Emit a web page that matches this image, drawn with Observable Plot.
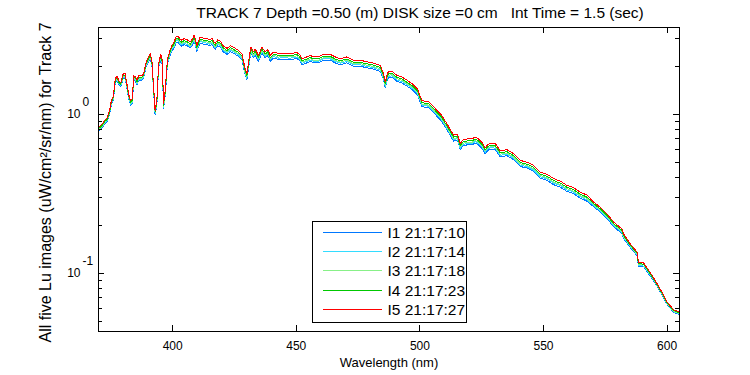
<!DOCTYPE html>
<html><head><meta charset="utf-8">
<script src="https://cdn.jsdelivr.net/npm/d3@7"></script>
<script src="https://cdn.jsdelivr.net/npm/@observablehq/plot@0.6"></script>
<style>body{margin:0;background:#fff} #chart{width:750px;height:375px}</style>
</head><body><div id="chart"></div>
<script>
const wavelength = [
370.5,371.5,372.5,373.5,374.5,375.2,376.0,376.8,377.5,378.3,
379.0,380.0,380.8,381.7,382.4,383.0,383.6,384.3,385.0,385.6,
386.3,387.2,388.2,389.3,390.3,390.9,391.6,392.2,392.9,393.6,
394.3,395.2,395.8,396.3,397.0,397.9,399.0,399.7,400.6,401.4,
402.2,403.0,403.7,404.6,405.8,407.1,408.0,408.7,409.8,411.1,
412.5,413.8,415.0,415.9,417.2,418.2,419.2,420.6,422.0,423.3,
424.6,425.6,426.6,428.0,429.3,430.0,431.1,431.6,432.7,433.4,
434.7,436.1,437.4,438.5,439.5,440.9,442.8,444.9,447.5,450.2,
451.3,452.3,454.3,455.6,457.0,459.0,461.0,463.7,465.7,467.8,
470.5,473.2,475.9,478.6,481.3,484.0,485.3,486.0,486.8,487.3,
488.7,490.7,492.7,494.8,496.8,499.0,500.8,503.5,505.5,507.6,
508.5,510.9,513.6,515.2,516.3,517.4,519.0,521.0,522.4,523.7,
525.0,526.4,527.7,529.0,530.5,532.5,535.2,537.9,540.6,543.3,
546.0,548.7,551.4,554.1,556.8,559.5,561.5,564.9,567.6,570.3,
573.0,575.7,578.4,581.7,582.4,585.1,587.8,588.4,590.5,593.2,
595.2,597.9,600.0,602.6,605.0];

const i1 = [
.792,.820,.868,.896,1.000,1.150,1.226,1.584,1.641,1.528,
1.490,1.683,1.683,1.393,1.216,1.141,1.169,1.636,1.608,1.533,
1.646,1.627,1.674,2.001,2.151,2.253,2.048,1.459,0.991,1.141,
1.954,2.213,2.037,1.083,1.315,2.074,2.361,2.519,2.613,2.843,
2.852,2.723,2.687,2.751,2.705,2.613,2.733,2.889,2.494,2.815,
2.769,2.751,2.705,2.751,2.558,2.705,2.659,2.458,2.384,2.476,
2.430,2.366,2.320,2.210,1.779,1.651,2.155,2.430,2.265,2.366,
2.155,2.430,2.265,2.338,2.155,2.265,2.210,2.228,2.210,2.247,
2.182,2.054,2.109,2.155,2.109,2.109,2.192,2.192,2.109,2.054,
2.109,2.008,2.008,1.962,1.926,1.862,1.651,1.467,1.651,1.696,
1.715,1.614,1.577,1.504,1.431,1.330,1.119,1.100,1.027,0.945,
0.917,0.801,0.679,0.688,0.600,0.633,0.642,0.642,0.660,0.642,
0.614,0.566,0.596,0.605,0.600,0.541,0.550,0.518,0.470,0.459,
0.437,0.397,0.385,0.361,0.348,0.327,0.321,0.297,0.284,0.262,
0.243,0.221,0.196,0.178,0.165,0.145,0.129,0.111,0.110,0.0957,
0.0866,0.0731,0.0635,0.0568,0.0548];

const i2 = [
.804,.833,.880,.909,1.014,1.168,1.244,1.608,1.665,1.550,
1.512,1.710,1.710,1.416,1.235,1.159,1.188,1.663,1.634,1.558,
1.672,1.653,1.701,2.033,2.185,2.290,2.081,1.482,1.007,1.159,
1.986,2.254,2.075,1.103,1.339,2.112,2.405,2.565,2.668,2.902,
2.911,2.780,2.742,2.808,2.761,2.668,2.789,2.948,2.546,2.874,
2.827,2.808,2.761,2.808,2.611,2.761,2.714,2.508,2.434,2.527,
2.480,2.415,2.368,2.256,1.816,1.685,2.200,2.480,2.312,2.415,
2.200,2.480,2.312,2.387,2.200,2.312,2.256,2.274,2.256,2.293,
2.228,2.097,2.153,2.200,2.153,2.153,2.237,2.237,2.153,2.097,
2.153,2.050,2.050,2.003,1.966,1.900,1.685,1.498,1.685,1.732,
1.750,1.647,1.610,1.535,1.460,1.357,1.142,1.123,1.048,0.964,
0.936,0.818,0.693,0.702,0.612,0.646,0.655,0.655,0.674,0.655,
0.627,0.578,0.608,0.618,0.612,0.552,0.562,0.529,0.480,0.468,
0.446,0.405,0.393,0.369,0.356,0.334,0.328,0.303,0.290,0.266,
0.247,0.224,0.200,0.181,0.168,0.147,0.131,0.112,0.111,0.0971,
0.0874,0.0738,0.0641,0.0573,0.0553];

const i3 = [
.813,.842,.891,.920,1.026,1.181,1.258,1.626,1.684,1.568,
1.529,1.733,1.733,1.435,1.252,1.175,1.204,1.685,1.656,1.579,
1.695,1.676,1.724,2.061,2.215,2.321,2.109,1.502,1.021,1.175,
2.013,2.290,2.108,1.121,1.360,2.146,2.443,2.606,2.713,2.951,
2.961,2.827,2.789,2.856,2.808,2.713,2.837,2.999,2.589,2.923,
2.875,2.856,2.808,2.856,2.656,2.808,2.761,2.551,2.475,2.570,
2.523,2.456,2.409,2.294,1.847,1.714,2.237,2.523,2.351,2.456,
2.237,2.523,2.351,2.428,2.237,2.351,2.294,2.313,2.294,2.332,
2.266,2.132,2.190,2.237,2.190,2.190,2.275,2.275,2.190,2.132,
2.190,2.085,2.085,2.037,1.999,1.933,1.714,1.523,1.714,1.761,
1.780,1.676,1.637,1.561,1.485,1.380,1.161,1.142,1.066,0.981,
0.952,0.832,0.704,0.714,0.623,0.657,0.666,0.666,0.685,0.666,
0.638,0.587,0.619,0.628,0.623,0.562,0.571,0.538,0.488,0.476,
0.454,0.412,0.400,0.375,0.362,0.340,0.333,0.308,0.295,0.270,
0.250,0.227,0.202,0.183,0.170,0.149,0.132,0.114,0.113,0.0981,
0.0880,0.0743,0.0645,0.0577,0.0557];

const i4 = [
.823,.853,.902,.931,1.039,1.196,1.274,1.646,1.705,1.588,
1.548,1.760,1.760,1.457,1.271,1.193,1.223,1.712,1.682,1.604,
1.721,1.702,1.751,2.093,2.249,2.357,2.142,1.526,1.037,1.193,
2.044,2.330,2.145,1.141,1.385,2.184,2.486,2.652,2.767,3.010,
3.020,2.884,2.845,2.913,2.864,2.767,2.894,3.059,2.641,2.981,
2.932,2.913,2.864,2.913,2.709,2.864,2.816,2.602,2.525,2.622,
2.573,2.505,2.457,2.340,1.884,1.748,2.282,2.573,2.398,2.505,
2.282,2.573,2.398,2.476,2.282,2.398,2.340,2.360,2.340,2.379,
2.311,2.175,2.233,2.282,2.233,2.233,2.321,2.321,2.233,2.175,
2.233,2.126,2.126,2.078,2.039,1.971,1.748,1.554,1.748,1.796,
1.816,1.709,1.670,1.592,1.515,1.408,1.185,1.165,1.088,1.000,
0.971,0.849,0.719,0.728,0.635,0.670,0.680,0.680,0.699,0.680,
0.651,0.599,0.631,0.641,0.635,0.573,0.583,0.549,0.498,0.486,
0.463,0.420,0.408,0.383,0.369,0.347,0.340,0.315,0.301,0.274,
0.254,0.231,0.205,0.186,0.173,0.150,0.134,0.115,0.114,0.0992,
0.0888,0.0750,0.0651,0.0582,0.0563];

const i5 = [
0.84,0.87,0.92,0.95,1.06,1.22,1.30,1.68,1.74,1.62,
1.58,1.80,1.80,1.49,1.30,1.22,1.25,1.75,1.72,1.64,
1.76,1.74,1.79,2.14,2.30,2.41,2.19,1.56,1.06,1.22,
2.09,2.39,2.20,1.17,1.42,2.24,2.55,2.72,2.85,3.10,
3.11,2.97,2.93,3.00,2.95,2.85,2.98,3.15,2.72,3.07,
3.02,3.00,2.95,3.00,2.79,2.95,2.90,2.68,2.60,2.70,
2.65,2.58,2.53,2.41,1.94,1.80,2.35,2.65,2.47,2.58,
2.35,2.65,2.47,2.55,2.35,2.47,2.41,2.43,2.41,2.45,
2.38,2.24,2.30,2.35,2.30,2.30,2.39,2.39,2.30,2.24,
2.30,2.19,2.19,2.14,2.10,2.03,1.80,1.60,1.80,1.85,
1.87,1.76,1.72,1.64,1.56,1.45,1.22,1.20,1.12,1.03,
1.00,0.874,0.74,0.75,0.654,0.69,0.70,0.70,0.72,0.70,
0.67,0.617,0.65,0.66,0.654,0.59,0.60,0.565,0.513,0.50,
0.477,0.433,0.42,0.394,0.38,0.357,0.35,0.324,0.31,0.28,
0.26,0.236,0.21,0.19,0.177,0.153,0.136,0.117,0.116,0.101,
0.090,0.076,0.066,0.059,0.057];

const seriesNames = ["I1 21:17:10", "I2 21:17:14", "I3 21:17:18", "I4 21:17:23", "I5 21:17:27"];
const seriesColors = ["#0078ff", "#33dcff", "#88f088", "#00c800", "#ff0000"];
const xTicks = [400, 450, 500, 550, 600];
const yMajor = [0.1, 1];
const yMajorBase = ["10", "10"];
const yMajorExp = ["-1", "0"];
const yMinor = [0.05, 0.06, 0.07, 0.08, 0.09, 0.2, 0.3, 0.4, 0.5, 0.6, 0.7, 0.8, 0.9, 2, 3];
const titleText = "TRACK 7 Depth =0.50 (m) DISK size =0 cm\u00a0\u00a0 Int Time = 1.5 (sec)";
const xLabel = "Wavelength (nm)";
const yLabel = "All five Lu images (uW/cm\u00b2/sr/nm) for Track 7";

const W = 750, H = 375, ML = 98, MR = 71, MT = 27, MB = 44;
const FW = W - ML - MR, FH = H - MT - MB;

const series = [i1, i2, i3, i4, i5];
const rows = series.flatMap((vals, k) => wavelength.map((w, j) => ({series: seriesNames[k], w, v: vals[j]})));

const font = "'Liberation Sans', Arial, Helvetica, sans-serif";
const plot = Plot.plot({
  width: W, height: H, marginLeft: ML, marginRight: MR, marginTop: MT, marginBottom: MB,
  style: {fontFamily: font, fontSize: "12px", background: "white", color: "black", overflow: "visible"},
  x: {domain: [370, 605], axis: null},
  y: {type: "log", domain: [0.043, 3.52], axis: null},
  color: {domain: seriesNames, range: seriesColors},
  marks: [
    Plot.line(rows, {x: "w", y: "v", z: "series", stroke: "series", strokeWidth: 1, shapeRendering: "crispEdges"}),
    Plot.frame({stroke: "black", strokeWidth: 1, shapeRendering: "crispEdges"}),
    Plot.tickX(xTicks, {x: d => d, insetTop: FH - 6, stroke: "black", shapeRendering: "crispEdges"}),
    Plot.tickX(xTicks, {x: d => d, insetBottom: FH - 6, stroke: "black", shapeRendering: "crispEdges"}),
    Plot.tickY(yMajor, {y: d => d, insetRight: FW - 6, stroke: "black", shapeRendering: "crispEdges"}),
    Plot.tickY(yMajor, {y: d => d, insetLeft: FW - 6, stroke: "black", shapeRendering: "crispEdges"}),
    Plot.tickY(yMinor, {y: d => d, insetRight: FW - 4, stroke: "black", shapeRendering: "crispEdges"}),
    Plot.tickY(yMinor, {y: d => d, insetLeft: FW - 4, stroke: "black", shapeRendering: "crispEdges"}),
    Plot.text(xTicks, {x: d => d, text: d => String(d), frameAnchor: "bottom", dy: 15, lineAnchor: "middle", fontSize: 12, fill: "black"}),
    Plot.text(yMajor, {y: d => d, text: (d, i) => yMajorBase[i], frameAnchor: "left", dx: -18, dy: 0, textAnchor: "end", lineAnchor: "middle", fontSize: 12, fill: "black"}),
    Plot.text(yMajor, {y: d => d, text: (d, i) => yMajorExp[i], frameAnchor: "left", dx: -16, dy: -12, textAnchor: "start", lineAnchor: "middle", fontSize: 12, fill: "black"}),
    Plot.text([xLabel], {text: d => d, frameAnchor: "bottom", dy: 31, lineAnchor: "middle", fontSize: 13, fill: "black"}),
    Plot.text([yLabel], {text: d => d, frameAnchor: "left", dx: -53, dy: 3, rotate: -90, textAnchor: "middle", lineAnchor: "middle", fontSize: 16, fill: "black"}),
    Plot.text([titleText], {text: d => d, frameAnchor: "top", dx: 31, dy: -14, lineAnchor: "middle", fontSize: 15.5, fill: "black"})
  ]
});

// legend box (layout in pixels, entries from the series arrays)
const svg = d3.select(plot);
const lg = svg.append("g").attr("transform", "translate(312.5,221.5)");
lg.append("rect").attr("width", 154).attr("height", 101).attr("fill", "white").attr("stroke", "black").attr("shape-rendering", "crispEdges");
seriesNames.forEach((name, k) => {
  const yy = Math.round(11 + k * 19.2);
  lg.append("line").attr("x1", 10).attr("x2", 69).attr("y1", yy).attr("y2", yy)
    .attr("stroke", seriesColors[k]).attr("shape-rendering", "crispEdges");
  lg.append("text").attr("x", 75).attr("y", yy).attr("dy", "0.35em").attr("text-anchor", "start")
    .attr("font-family", font).attr("font-size", "15.5px").attr("fill", "black").text(name);
});

document.getElementById("chart").appendChild(plot);
</script>
</body></html>
